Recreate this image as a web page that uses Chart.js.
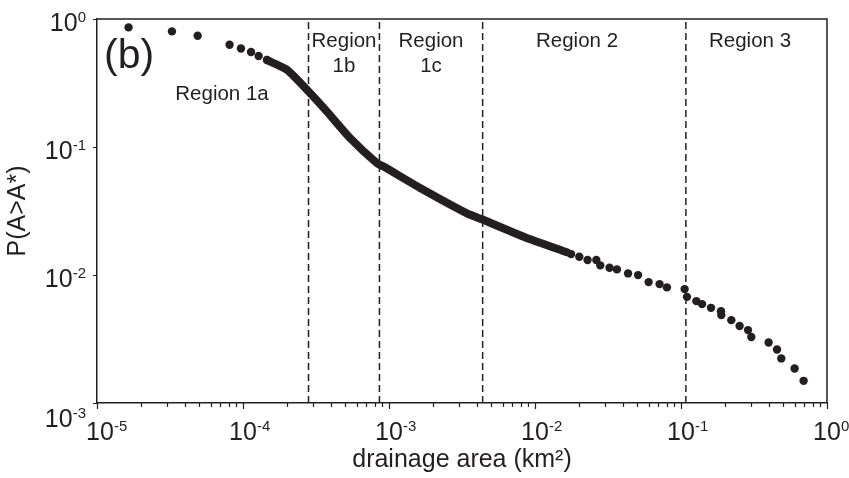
<!DOCTYPE html>
<html><head><meta charset="utf-8">
<script src="https://cdn.jsdelivr.net/npm/chart.js@4.4.0/dist/chart.umd.min.js"></script>
<style>html,body{margin:0;padding:0;background:#fff;overflow:hidden}</style>
</head><body>
<canvas id="c" width="849" height="478" style="width:849px;height:478px;display:block"></canvas>
<script>
// ---- data ----
const upperX = [1.645e-5, 3.26e-5, 4.89e-5, 8.09e-5, 9.68e-5, 1.135e-4, 1.28e-4, 1.46e-4];
const upperY = [0.860, 0.800, 0.740, 0.629, 0.589, 0.552, 0.514, 0.478];
const traceX = [1.46e-4, 2.00e-4, 2.74e-4, 3.76e-4, 5.43e-4, 8.28e-4, 9.18e-4, 1.73e-3, 3.42e-3, 4.45e-3, 8.36e-3, 0.01656];
const traceY = [0.478, 0.401, 0.280, 0.189, 0.117, 0.0746, 0.0703, 0.0461, 0.0303, 0.0269, 0.0199, 0.01503];
const lowerX = [0.01766, 0.02011, 0.02291, 0.0263, 0.0280, 0.0324, 0.0364, 0.0434, 0.0508, 0.0600, 0.0713, 0.0801,
                0.1059, 0.1099, 0.1274, 0.1394, 0.1605, 0.1879, 0.1888, 0.2211, 0.2520, 0.2877, 0.3031, 0.3981,
                0.4545, 0.4864, 0.5998, 0.6915];
const lowerY = [0.01457, 0.01388, 0.01308, 0.01308, 0.01189, 0.01138, 0.01106, 0.01029, 0.00998, 0.00880, 0.00849, 0.00800,
                0.00776, 0.00675, 0.00625, 0.00592, 0.00554, 0.00522, 0.00486, 0.00444, 0.00400, 0.00371, 0.00328, 0.00297,
                0.00262, 0.00223, 0.00186, 0.00149];
const regionBounds = [2.81e-4, 8.6e-4, 4.38e-3, 0.108];
const regionLabels = [['Region 1a'], ['Region', '1b'], ['Region', '1c'], ['Region 2'], ['Region 3']];
const xTickExponents = [-5, -4, -3, -2, -1, 0];
const yTickExponents = [-3, -2, -1, 0];
const xTitle = 'drainage area (km²)';
const yTitle = 'P(A>A*)';
const panelLabel = '(b)';

// ---- styling ----
const INK = '#231f20';
const FONT = '"Liberation Sans", Arial, Helvetica, sans-serif';
const regionLabelPos = [
  {x: 222, y: [100]},
  {x: 344, y: [47, 71.5]},
  {x: 431, y: [47, 71.5]},
  {x: 577, y: [47]},
  {x: 750, y: [47]}
];

const pts = (xs, ys) => xs.map((x, i) => ({x, y: ys[i]}));
const xMajor = xTickExponents.map(e => Math.pow(10, e));
const yMajor = yTickExponents.map(e => Math.pow(10, e));
const xMinor = [];
xMajor.slice(0, -1).forEach(m => { for (let k = 2; k <= 9; k++) xMinor.push(m * k); });

const datasets = [
  {data: pts(upperX, upperY), pointRadius: 4.2, pointBackgroundColor: INK, pointBorderWidth: 0, showLine: false},
  {data: pts(traceX, traceY), showLine: true, borderColor: INK, borderWidth: 8, pointRadius: 0,
   borderCapStyle: 'round', borderJoinStyle: 'round', tension: 0.2},
  {data: pts(lowerX, lowerY), pointRadius: 4.2, pointBackgroundColor: INK, pointBorderWidth: 0, showLine: false}
];
regionBounds.forEach(b => datasets.push({
  data: [{x: b, y: 1e-3}, {x: b, y: 1}], showLine: true, borderColor: INK, borderWidth: 1.5,
  borderDash: [7, 4], pointRadius: 0, clip: false
}));

function drawPow(ctx, exp, x, base, mode) {
  ctx.save();
  ctx.fillStyle = INK;
  ctx.textBaseline = 'alphabetic';
  ctx.textAlign = 'left';
  ctx.font = '25px ' + FONT;
  const w1 = ctx.measureText('10').width;
  ctx.font = '15px ' + FONT;
  const es = String(exp);
  const w2 = ctx.measureText(es).width;
  let start = mode === 'center' ? x - w1 / 2 : x - w1 - w2;
  ctx.font = '25px ' + FONT;
  ctx.fillText('10', start, base);
  ctx.font = '15px ' + FONT;
  ctx.fillText(es, start + w1, base - 9.5);
  ctx.restore();
}

const decor = {
  id: 'decor',
  afterDraw(chart) {
    const {ctx, chartArea: a, scales: {x, y}} = chart;
    ctx.save();
    // frame top/right
    ctx.strokeStyle = INK; ctx.lineWidth = 1.5;
    ctx.beginPath();
    ctx.moveTo(a.left, a.top); ctx.lineTo(a.right, a.top); ctx.lineTo(a.right, a.bottom);
    ctx.stroke();
    // tick marks
    ctx.lineWidth = 1.2;
    ctx.beginPath();
    xMajor.forEach(v => { const p = Math.round(x.getPixelForValue(v)) + 0.5; ctx.moveTo(p, a.bottom); ctx.lineTo(p, a.bottom + 6); });
    xMinor.forEach(v => { const p = Math.round(x.getPixelForValue(v)) + 0.5; ctx.moveTo(p, a.bottom); ctx.lineTo(p, a.bottom + 4); });
    yMajor.forEach(v => { const p = Math.round(y.getPixelForValue(v)) + 0.5; ctx.moveTo(a.left, p); ctx.lineTo(a.left - 4, p); });
    ctx.stroke();
    // tick labels
    xTickExponents.forEach((e, i) => {
      const px = x.getPixelForValue(Math.pow(10, e)) + (i === 0 ? 3 : 0);
      drawPow(ctx, e, px, 440, 'center');
    });
    yTickExponents.forEach((e, i) => {
      const py = y.getPixelForValue(Math.pow(10, e));
      drawPow(ctx, e, 86, py + (i === 0 ? 24 : 12), 'right');
    });
    // titles
    ctx.fillStyle = INK;
    ctx.textAlign = 'center';
    ctx.textBaseline = 'alphabetic';
    ctx.font = '25px ' + FONT;
    ctx.fillText(xTitle, (a.left + a.right) / 2, 467);
    ctx.save();
    ctx.translate(25, (a.top + a.bottom) / 2);
    ctx.rotate(-Math.PI / 2);
    ctx.fillText(yTitle, 0, 0);
    ctx.restore();
    // region labels
    ctx.font = '20.5px ' + FONT;
    regionLabels.forEach((lines, i) => {
      lines.forEach((t, j) => ctx.fillText(t, regionLabelPos[i].x, regionLabelPos[i].y[j]));
    });
    // panel label
    ctx.textAlign = 'left';
    ctx.font = '41px ' + FONT;
    ctx.fillText(panelLabel, 104, 68);
    ctx.restore();
  }
};

new Chart(document.getElementById('c'), {
  type: 'scatter',
  data: {datasets},
  options: {
    responsive: false, animation: false, devicePixelRatio: 1,
    layout: {padding: {left: 94, right: 22, top: 19, bottom: 70}},
    plugins: {legend: {display: false}, tooltip: {enabled: false}},
    scales: {
      x: {
        type: 'logarithmic', position: 'bottom', min: 1e-5, max: 1,
        ticks: {display: false},
        grid: {display: true, drawOnChartArea: false, drawTicks: true, tickLength: 5, color: 'rgba(0,0,0,0)'},
        border: {display: true, color: INK, width: 1.5}
      },
      y: {
        type: 'logarithmic', position: 'left', min: 1e-3, max: 1,
        ticks: {display: false},
        grid: {display: true, drawOnChartArea: false, drawTicks: true, tickLength: 3, color: 'rgba(0,0,0,0)'},
        border: {display: true, color: INK, width: 1.5}
      }
    }
  },
  plugins: [decor]
});
</script>
</body></html>
